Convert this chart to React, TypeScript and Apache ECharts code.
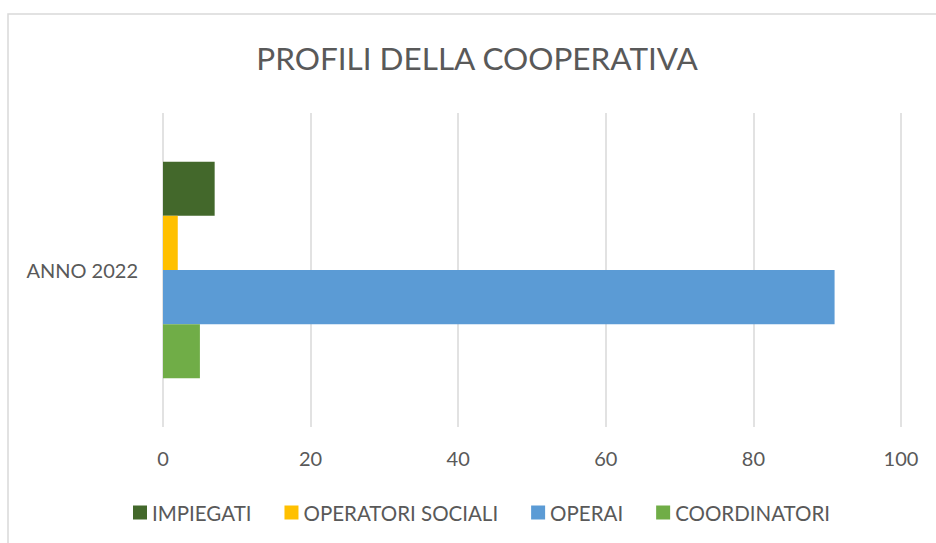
import React, { useEffect, useRef } from "react";
import * as echarts from "echarts";

const categories = ["ANNO 2022"];
const seriesNames = ["IMPIEGATI", "OPERATORI SOCIALI", "OPERAI", "COORDINATORI"];
const impiegati = [7];
const operatoriSociali = [2];
const operai = [91];
const coordinatori = [5];
const xTicks = { min: 0, max: 100, interval: 20 };
const colors = ["#43682b", "#ffc000", "#5b9bd5", "#70ad47"];

const FONT = "Lato";
const TEXT = "#595959";

export default function App() {
  const ref = useRef<HTMLDivElement>(null);
  useEffect(() => {
    if (!ref.current) return;
    const chart = echarts.init(ref.current, undefined, { renderer: "svg" });
    const values = [impiegati, operatoriSociali, operai, coordinatori];
    chart.setOption({
      animation: false,
      textStyle: { fontFamily: FONT },
      graphic: [
        {
          type: "rect",
          shape: { x: 8, y: 14, width: 1000, height: 600 },
          style: { fill: "none", stroke: "#d9d9d9", lineWidth: 1.5 },
          silent: true,
        },
        {
          type: "text",
          x: 477,
          y: 58,
          style: {
            text: "PROFILI DELLA COOPERATIVA",
            fill: TEXT,
            font: `31.5px ${FONT}`,
            textAlign: "center",
            textVerticalAlign: "middle",
          },
        },
      ],
      legend: {
        left: 133,
        top: 502,
        padding: 0,
        itemWidth: 14,
        itemHeight: 14,
        itemGap: 33,
        icon: "rect",
        data: seriesNames,
        textStyle: { color: TEXT, fontSize: 20.5, fontFamily: FONT },
      },
      grid: { left: 163, right: 35, top: 113, bottom: 116, containLabel: false },
      xAxis: {
        type: "value",
        min: xTicks.min,
        max: xTicks.max,
        interval: xTicks.interval,
        axisLine: { show: false },
        axisTick: { show: false },
        axisLabel: { color: TEXT, fontSize: 20, margin: 21, fontFamily: FONT },
        splitLine: { lineStyle: { color: "#d9d9d9", width: 1.5 } },
      },
      yAxis: {
        type: "category",
        data: categories,
        inverse: true,
        axisLine: { show: false },
        axisTick: { show: false },
        axisLabel: { color: TEXT, fontSize: 20, margin: 25, fontFamily: FONT },
        splitLine: { show: false },
      },
      series: seriesNames.map((name, i) => ({
        name,
        type: "bar",
        data: values[i],
        barGap: "0%",
        barCategoryGap: "31%",
        itemStyle: { color: colors[i] },
      })),
    });
    return () => chart.dispose();
  }, []);
  return (
    <div
      ref={ref}
      style={{ position: "absolute", left: 0, top: 0, width: 936, height: 543, background: "#fff" }}
    />
  );
}
